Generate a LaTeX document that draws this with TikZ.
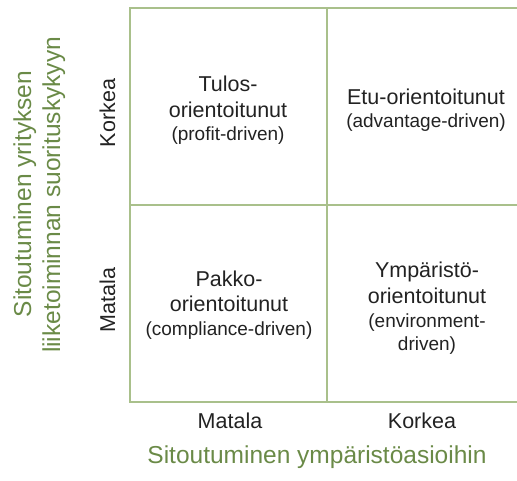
\documentclass[tikz,border=0pt]{standalone}
\usepackage{fontspec}
\setmainfont{Liberation Sans}
\definecolor{gridgreen}{HTML}{A9C08B}
\definecolor{axisgreen}{HTML}{6A8A47}
\definecolor{ink}{HTML}{222222}
\tikzset{
  gridline/.style={draw=gridgreen, line width=1.8pt},
  maintxt/.style={inner sep=0pt, anchor=base, text=ink, font=\fontsize{21.5}{25}\selectfont},
  subtxt/.style={inner sep=0pt, anchor=base, text=ink, font=\fontsize{19}{23}\selectfont},
  levtxt/.style={inner sep=0pt, anchor=base, text=ink, font=\fontsize{21.5}{25}\selectfont},
  axistxt/.style={inner sep=0pt, anchor=base, text=axisgreen, font=\fontsize{24.5}{29}\selectfont},
}
\begin{document}
\begin{tikzpicture}[x=1pt, y=-1pt]
\useasboundingbox (0,0) rectangle (517,481);

% grid corners
\coordinate (tl) at (130,8);
\coordinate (tm) at (327,8);
\coordinate (tr) at (517,8);
\coordinate (ml) at (130,205);
\coordinate (mr) at (517,205);
\coordinate (bl) at (130,402);
\coordinate (bm) at (327,402);
\coordinate (br) at (517,402);

% 2x2 matrix grid
\draw[gridline] (tr) -- (tl) -- (bl) -- (br);
\draw[gridline] (ml) -- (mr);
\draw[gridline] (tm) -- (bm);

% quadrant labels
\node[maintxt] (q1a) at (228,92) {Tulos-};
\node[maintxt] (q1b) at (228,118) {orientoitunut};
\node[subtxt]  (q1c) at (228,141) {(profit-driven)};

\node[maintxt] (q2a) at (426,105) {Etu-orientoitunut};
\node[subtxt]  (q2b) at (426,128) {(advantage-driven)};

\node[maintxt] (q3a) at (229,287) {Pakko-};
\node[maintxt] (q3b) at (229,312) {orientoitunut};
\node[subtxt]  (q3c) at (229,335) {(compliance-driven)};

\node[maintxt] (q4a) at (427,278) {Ympäristö-};
\node[maintxt] (q4b) at (427,303) {orientoitunut};
\node[subtxt]  (q4c) at (427,327) {(environment-};
\node[subtxt]  (q4d) at (427,350) {driven)};

% level labels
\node[levtxt] (xlow)  at (230,428) {Matala};
\node[levtxt] (xhigh) at (422,428) {Korkea};
\node[levtxt, rotate=90] (yhigh) at (115,113) {Korkea};
\node[levtxt, rotate=90] (ylow)  at (115,300) {Matala};

% axis titles
\node[axistxt] (xaxis) at (317,463) {Sitoutuminen ympäristöasioihin};
\node[axistxt, rotate=90] (yaxis1) at (31,194) {Sitoutuminen yrityksen};
\node[axistxt, rotate=90] (yaxis2) at (60,195) {liiketoiminnan suorituskykyyn};
\end{tikzpicture}
\end{document}
